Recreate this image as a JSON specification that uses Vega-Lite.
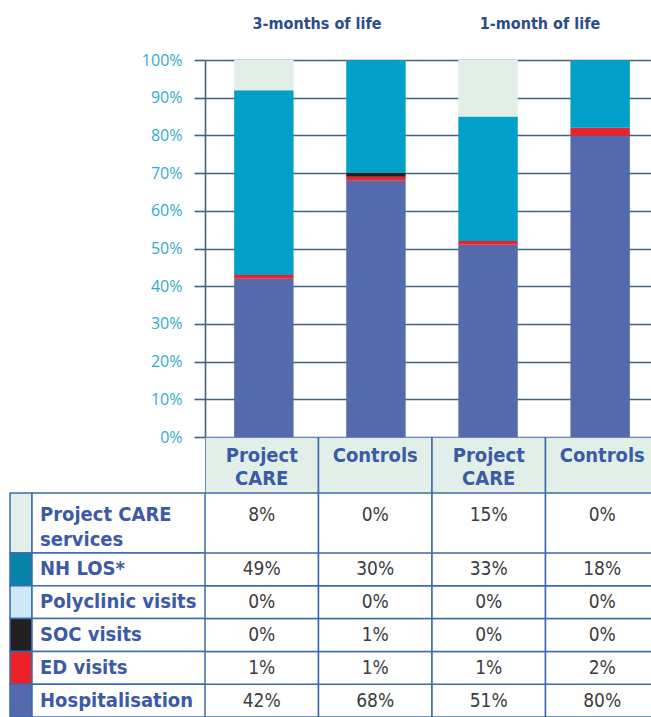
{
  "$schema": "https://vega.github.io/schema/vega-lite/v6.json",
  "padding": {"left": 9, "top": 15, "right": 0, "bottom": 0},
  "config": {"view": {"stroke": null}, "font": "DejaVu Sans Condensed, Roboto"},
  "spacing": 0,
  "columns": 3,
  "bounds": "flush",
  "resolve": {"scale": {"color": "independent", "x": "independent", "y": "independent"}},
  "datasets": {
    "bars": [
      {"bar": "PC3", "group": "Project CARE", "period": "3-months of life"},
      {"bar": "C3", "group": "Controls", "period": "3-months of life"},
      {"bar": "PC1", "group": "Project CARE", "period": "1-month of life"},
      {"bar": "C1", "group": "Controls", "period": "1-month of life"}
    ],
    "cats": [
      {"cat": "Project CARE services", "label": "Project CARE\nservices", "k": 6},
      {"cat": "NH LOS", "label": "NH LOS*", "k": 5},
      {"cat": "Polyclinic visits", "label": "Polyclinic visits", "k": 4},
      {"cat": "SOC visits", "label": "SOC visits", "k": 3},
      {"cat": "ED visits", "label": "ED visits", "k": 2},
      {"cat": "Hospitalisation", "label": "Hospitalisation", "k": 1}
    ],
    "vals": [
      {"bar": "PC3", "cat": "Hospitalisation", "v": 42},
      {"bar": "PC3", "cat": "ED visits", "v": 1},
      {"bar": "PC3", "cat": "SOC visits", "v": 0},
      {"bar": "PC3", "cat": "Polyclinic visits", "v": 0},
      {"bar": "PC3", "cat": "NH LOS", "v": 49},
      {"bar": "PC3", "cat": "Project CARE services", "v": 8},
      {"bar": "C3", "cat": "Hospitalisation", "v": 68},
      {"bar": "C3", "cat": "ED visits", "v": 1},
      {"bar": "C3", "cat": "SOC visits", "v": 1},
      {"bar": "C3", "cat": "Polyclinic visits", "v": 0},
      {"bar": "C3", "cat": "NH LOS", "v": 30},
      {"bar": "C3", "cat": "Project CARE services", "v": 0},
      {"bar": "PC1", "cat": "Hospitalisation", "v": 51},
      {"bar": "PC1", "cat": "ED visits", "v": 1},
      {"bar": "PC1", "cat": "SOC visits", "v": 0},
      {"bar": "PC1", "cat": "Polyclinic visits", "v": 0},
      {"bar": "PC1", "cat": "NH LOS", "v": 33},
      {"bar": "PC1", "cat": "Project CARE services", "v": 15},
      {"bar": "C1", "cat": "Hospitalisation", "v": 80},
      {"bar": "C1", "cat": "ED visits", "v": 2},
      {"bar": "C1", "cat": "SOC visits", "v": 0},
      {"bar": "C1", "cat": "Polyclinic visits", "v": 0},
      {"bar": "C1", "cat": "NH LOS", "v": 18},
      {"bar": "C1", "cat": "Project CARE services", "v": 0}
    ]
  },
  "concat": [
    {"width": 22, "height": 377, "data": {"values": [{}]}, "mark": {"type": "text", "text": ""}, "encoding": {}},
    {"width": 173, "height": 377, "data": {"values": [{}]}, "mark": {"type": "text", "text": ""}, "encoding": {}},
    {
      "width": 446, "height": 377,
      "resolve": {"scale": {"x": "independent"}},
      "layer": [
        {
          "data": {"name": "vals"},
          "transform": [{"lookup": "cat", "from": {"data": {"name": "cats"}, "key": "cat", "fields": ["k"]}}],
          "mark": {"type": "bar", "clip": true},
          "encoding": {
            "x": {"field": "bar", "type": "nominal", "sort": ["PC3", "C3", "PC1", "C1"],
                  "scale": {"range": [0, 454], "paddingInner": 0.47, "paddingOuter": 0.26}, "axis": null},
            "y": {"field": "v", "type": "quantitative", "stack": "zero",
                  "scale": {"domain": [0, 100], "nice": false},
                  "axis": {"values": [0, 10, 20, 30, 40, 50, 60, 70, 80, 90, 100],
                           "labelExpr": "datum.value + '%'", "title": null,
                           "domainColor": "#45627f", "domainWidth": 1.6,
                           "tickColor": "#45627f", "tickSize": 11, "tickWidth": 1.6,
                           "gridColor": "#45627f", "gridWidth": 1.6,
                           "labelColor": "#35aacf", "labelFontSize": 16, "labelFont": "Open Sans",
                           "labelPadding": 12}},
            "color": {"field": "cat", "type": "nominal", "legend": null,
                      "scale": {"domain": ["Hospitalisation", "ED visits", "SOC visits", "Polyclinic visits", "NH LOS", "Project CARE services"],
                                "range": ["#5569ad", "#ed2127", "#231f20", "#cde9f8", "#00a0c8", "#e1efe8"]}},
            "order": {"field": "k", "type": "quantitative"}
          }
        },
        {
          "data": {"name": "bars"},
          "mark": {"type": "text", "text": ""},
          "encoding": {
            "x": {"field": "period", "type": "nominal", "sort": ["3-months of life", "1-month of life"],
                  "axis": {"orient": "top", "title": null, "domain": false, "ticks": false, "tickSize": 0,
                           "labelPadding": 29, "labelAngle": 0, "labelFontWeight": "bold", "labelFontSize": 16,
                           "labelColor": "#2c4c8c", "grid": false}}
          }
        }
      ]
    },
    {"width": 22, "height": 56, "data": {"values": [{}]}, "mark": {"type": "text", "text": ""}, "encoding": {}},
    {"width": 173, "height": 56, "data": {"values": [{}]}, "mark": {"type": "text", "text": ""}, "encoding": {}},
    {
      "width": 446, "height": 56,
      "data": {"name": "bars"},
      "layer": [
        {
          "mark": {"type": "rect", "fill": "#e1efe8", "stroke": "#3d6aae", "strokeWidth": 1.5, "clip": true},
          "encoding": {
            "x": {"field": "bar", "type": "nominal", "sort": ["PC3", "C3", "PC1", "C1"],
                  "scale": {"range": [0, 454], "paddingInner": 0, "paddingOuter": 0}, "axis": null}
          }
        },
        {
          "mark": {"type": "text", "lineBreak": " ", "baseline": "top", "dy": -19, "fontWeight": "bold", "fontSize": 20, "color": "#3d5aa6", "lineHeight": 23},
          "encoding": {
            "x": {"field": "bar", "type": "nominal", "sort": ["PC3", "C3", "PC1", "C1"], "axis": null},
            "text": {"field": "group"}
          }
        }
      ]
    },
    {
      "width": 22, "height": 60,
      "data": {"name": "cats"},
      "transform": [{"filter": "datum.k == 6"}],
      "mark": {"type": "rect", "stroke": "#3d6aae", "strokeWidth": 1.5},
      "encoding": {
        "y": {"field": "cat", "type": "nominal", "axis": null, "scale": {"paddingInner": 0, "paddingOuter": 0}},
        "color": {"field": "cat", "type": "nominal", "legend": null,
                  "scale": {"domain": ["Hospitalisation", "ED visits", "SOC visits", "Polyclinic visits", "NH LOS", "Project CARE services"],
                            "range": ["#5569ad", "#ed2127", "#231f20", "#cde9f8", "#0784a9", "#e1efe8"]}}
      }
    },
    {
      "width": 173, "height": 60,
      "data": {"name": "cats"},
      "transform": [{"filter": "datum.k == 6"}],
      "layer": [
        {
          "mark": {"type": "rect", "fill": "white", "stroke": "#3d6aae", "strokeWidth": 1.5},
          "encoding": {"y": {"field": "cat", "type": "nominal", "axis": null, "scale": {"paddingInner": 0, "paddingOuter": 0}}}
        },
        {
          "mark": {"type": "text", "align": "left", "dx": 8, "dy": -8, "lineBreak": "\n", "lineHeight": 25, "fontWeight": "bold", "fontSize": 20, "color": "#3d5aa6"},
          "encoding": {
            "x": {"datum": 0, "type": "quantitative", "scale": {"domain": [0, 1]}, "axis": null},
            "y": {"field": "cat", "type": "nominal", "axis": null},
            "text": {"field": "label"}
          }
        }
      ]
    },
    {
      "width": 446, "height": 60,
      "data": {"name": "vals"},
      "transform": [{"filter": "datum.cat == 'Project CARE services'"}, {"calculate": "datum.v + '%'", "as": "txt"}],
      "layer": [
        {
          "mark": {"type": "rect", "fill": "white", "stroke": "#3d6aae", "strokeWidth": 1.5, "clip": true},
          "encoding": {
            "x": {"field": "bar", "type": "nominal", "sort": ["PC3", "C3", "PC1", "C1"],
                  "scale": {"range": [0, 454], "paddingInner": 0, "paddingOuter": 0}, "axis": null},
            "y": {"field": "cat", "type": "nominal", "axis": null, "scale": {"paddingInner": 0, "paddingOuter": 0}}
          }
        },
        {
          "mark": {"type": "text", "dy": -8, "fontSize": 19, "color": "#3c3c3c"},
          "encoding": {
            "x": {"field": "bar", "type": "nominal", "sort": ["PC3", "C3", "PC1", "C1"], "axis": null},
            "y": {"field": "cat", "type": "nominal", "axis": null},
            "text": {"field": "txt"}
          }
        }
      ]
    },
    {
      "width": 22, "height": 164,
      "data": {"name": "cats"},
      "transform": [{"filter": "datum.k < 6"}],
      "mark": {"type": "rect", "stroke": "#3d6aae", "strokeWidth": 1.5},
      "encoding": {
        "y": {"field": "cat", "type": "nominal", "axis": null, "sort": {"field": "k", "order": "descending"},
              "scale": {"paddingInner": 0, "paddingOuter": 0}},
        "color": {"field": "cat", "type": "nominal", "legend": null,
                  "scale": {"domain": ["Hospitalisation", "ED visits", "SOC visits", "Polyclinic visits", "NH LOS", "Project CARE services"],
                            "range": ["#5569ad", "#ed2127", "#231f20", "#cde9f8", "#0784a9", "#e1efe8"]}}
      }
    },
    {
      "width": 173, "height": 164,
      "data": {"name": "cats"},
      "transform": [{"filter": "datum.k < 6"}],
      "layer": [
        {
          "mark": {"type": "rect", "fill": "white", "stroke": "#3d6aae", "strokeWidth": 1.5},
          "encoding": {"y": {"field": "cat", "type": "nominal", "axis": null, "sort": {"field": "k", "order": "descending"},
                             "scale": {"paddingInner": 0, "paddingOuter": 0}}}
        },
        {
          "mark": {"type": "text", "align": "left", "dx": 8, "fontWeight": "bold", "fontSize": 20, "color": "#3d5aa6"},
          "encoding": {
            "x": {"datum": 0, "type": "quantitative", "scale": {"domain": [0, 1]}, "axis": null},
            "y": {"field": "cat", "type": "nominal", "axis": null, "sort": {"field": "k", "order": "descending"}},
            "text": {"field": "label"}
          }
        }
      ]
    },
    {
      "width": 446, "height": 164,
      "data": {"name": "vals"},
      "transform": [{"filter": "datum.cat != 'Project CARE services'"}, {"calculate": "datum.v + '%'", "as": "txt"}],
      "layer": [
        {
          "mark": {"type": "rect", "fill": "white", "stroke": "#3d6aae", "strokeWidth": 1.5, "clip": true},
          "encoding": {
            "x": {"field": "bar", "type": "nominal", "sort": ["PC3", "C3", "PC1", "C1"],
                  "scale": {"range": [0, 454], "paddingInner": 0, "paddingOuter": 0}, "axis": null},
            "y": {"field": "cat", "type": "nominal", "axis": null,
                  "sort": ["NH LOS", "Polyclinic visits", "SOC visits", "ED visits", "Hospitalisation"],
                  "scale": {"paddingInner": 0, "paddingOuter": 0}}
          }
        },
        {
          "mark": {"type": "text", "fontSize": 19, "color": "#3c3c3c"},
          "encoding": {
            "x": {"field": "bar", "type": "nominal", "sort": ["PC3", "C3", "PC1", "C1"], "axis": null},
            "y": {"field": "cat", "type": "nominal", "axis": null,
                  "sort": ["NH LOS", "Polyclinic visits", "SOC visits", "ED visits", "Hospitalisation"]},
            "text": {"field": "txt"}
          }
        }
      ]
    }
  ]
}
